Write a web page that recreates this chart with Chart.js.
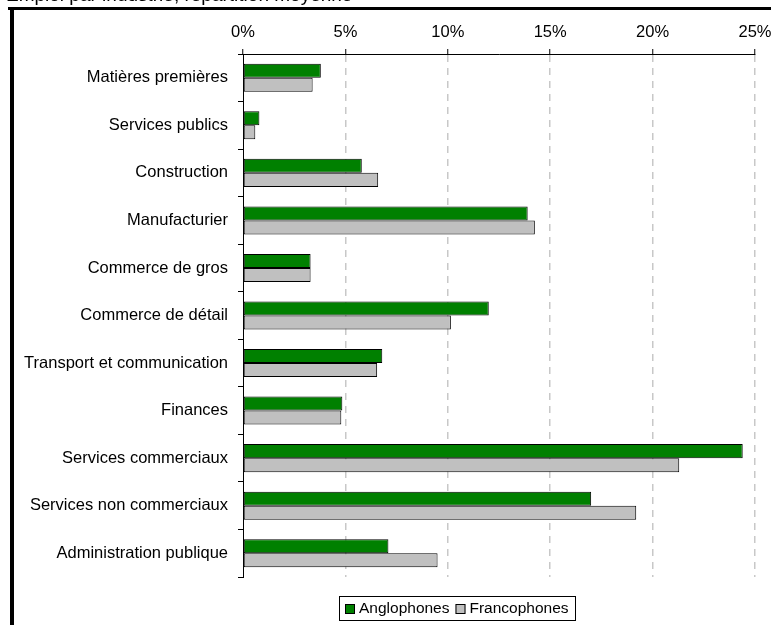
<!DOCTYPE html>
<html>
<head>
<meta charset="utf-8">
<title>Emploi par industrie</title>
<script src="https://cdn.jsdelivr.net/npm/chart.js@4.4.0/dist/chart.umd.min.js"></script>
<style>
    html, body { margin: 0; padding: 0; background: #fff; }
    #zone { position: relative; width: 771px; height: 625px; }
    #zone canvas { display: block; }
</style>
</head>
<body>
<div id="zone"><canvas id="chartjs-industrie" width="771" height="625"></canvas></div>
<script>
// Industries (axe vertical)
var industries = [
    "Matières premières", "Services publics", "Construction", "Manufacturier",
    "Commerce de gros", "Commerce de détail", "Transport et communication",
    "Finances", "Services commerciaux", "Services non commerciaux",
    "Administration publique"
];
// Part de l'emploi, en %
var anglophones  = [3.8, 0.8, 5.8, 13.9, 3.3, 12.0, 6.8, 4.85, 24.4, 17.0, 7.1];
var francophones = [3.4, 0.6, 6.6, 14.25, 3.3, 10.15, 6.55, 4.8, 21.3, 19.2, 9.5];
// Graduations de l'axe horizontal
var graduations = [0, 5, 10, 15, 20, 25];

var POLICE = "'Liberation Sans', Arial, sans-serif";

// Cadre, titre coupé et légende encadrée
var cadre = {
    id: 'cadre',
    beforeDraw: function (chart) {
        var ctx = chart.ctx;
        ctx.save();
        ctx.fillStyle = '#fff';
        ctx.fillRect(0, 0, chart.width, chart.height);
        ctx.restore();
    },
    afterDraw: function (chart) {
        var ctx = chart.ctx;
        ctx.save();

        // titre (seul le bas des lettres dépasse)
        ctx.fillStyle = '#000';
        ctx.font = "19px " + POLICE;
        ctx.textBaseline = 'alphabetic';
        ctx.textAlign = 'left';
        ctx.fillText("Emploi par industrie, répartition moyenne", 6, 1);

        // bordures noires
        ctx.fillRect(8, 7, chart.width - 8, 3);
        ctx.fillRect(10, 7, 4, chart.height - 7);

        // légende
        var ds = chart.data.datasets;
        ctx.font = "15.5px " + POLICE;
        var larg = 6;
        ds.forEach(function (d) {
            larg += 10 + 4 + ctx.measureText(d.label).width + 6;
        });
        var cx = 457, y0 = 596, h = 24;
        var x = Math.round(cx - larg / 2);
        ctx.lineWidth = 1;
        ctx.strokeStyle = '#000';
        ctx.strokeRect(x + 0.5, y0 + 0.5, Math.round(larg), h);
        var px = x + 6;
        ctx.textBaseline = 'middle';
        ds.forEach(function (d) {
            ctx.fillStyle = d.backgroundColor;
            ctx.fillRect(px, y0 + 8, 10, 10);
            ctx.strokeRect(px + 0.5, y0 + 8.5, 9, 9);
            ctx.fillStyle = '#000';
            ctx.fillText(d.label, px + 14, y0 + 13);
            px += 14 + ctx.measureText(d.label).width + 6;
        });
        ctx.restore();
    }
};

var ctx = document.getElementById("chartjs-industrie").getContext('2d');
new Chart(ctx, {
    type: 'bar',
    data: {
        labels: industries,
        datasets: [{
            label: "Anglophones",
            data: anglophones,
            backgroundColor: "#008000",
            borderColor: "#000",
            borderWidth: 1,
            borderSkipped: false
        }, {
            label: "Francophones",
            data: francophones,
            backgroundColor: "#c0c0c0",
            borderColor: "#000",
            borderWidth: 1,
            borderSkipped: false
        }]
    },
    plugins: [cadre],
    options: {
        indexAxis: 'y',
        responsive: false,
        animation: false,
        devicePixelRatio: 1,
        categoryPercentage: 0.59,
        barPercentage: 1.0,
        layout: { padding: { top: 0, right: 16, bottom: 48, left: 0 } },
        plugins: {
            legend: { display: false },
            tooltip: { enabled: false },
            title: { display: false }
        },
        scales: {
            x: {
                position: 'top',
                min: 0,
                max: 25,
                afterBuildTicks: function (scale) {
                    scale.ticks = graduations.map(function (v) { return { value: v }; });
                },
                afterFit: function (scale) {
                    // le "25%" peut déborder à droite
                    scale.height = 54;
                    scale.paddingLeft = 0;
                    scale.paddingRight = 0;
                },
                ticks: {
                    color: '#000',
                    padding: 7,
                    maxRotation: 0,
                    font: { family: POLICE, size: 16.5 },
                    callback: function (v) { return v + '%'; }
                },
                grid: {
                    color: function (c) { return c.tick && c.tick.value === 0 ? 'rgba(0,0,0,0)' : '#c8c8c8'; },
                    lineWidth: 1.5,
                    drawTicks: true,
                    tickLength: 5,
                    tickColor: '#000',
                    tickWidth: 1
                },
                border: { display: true, color: '#000', width: 1, dash: [7, 6] }
            },
            y: {
                afterFit: function (scale) { scale.width = 243; },
                ticks: {
                    color: '#000',
                    padding: 10,
                    autoSkip: false,
                    font: { family: POLICE, size: 16.5 }
                },
                grid: {
                    offset: true,
                    drawOnChartArea: false,
                    drawTicks: true,
                    tickLength: 5,
                    color: '#000'
                },
                border: { display: true, color: '#000', width: 1 }
            }
        }
    }
});
</script>
</body>
</html>
